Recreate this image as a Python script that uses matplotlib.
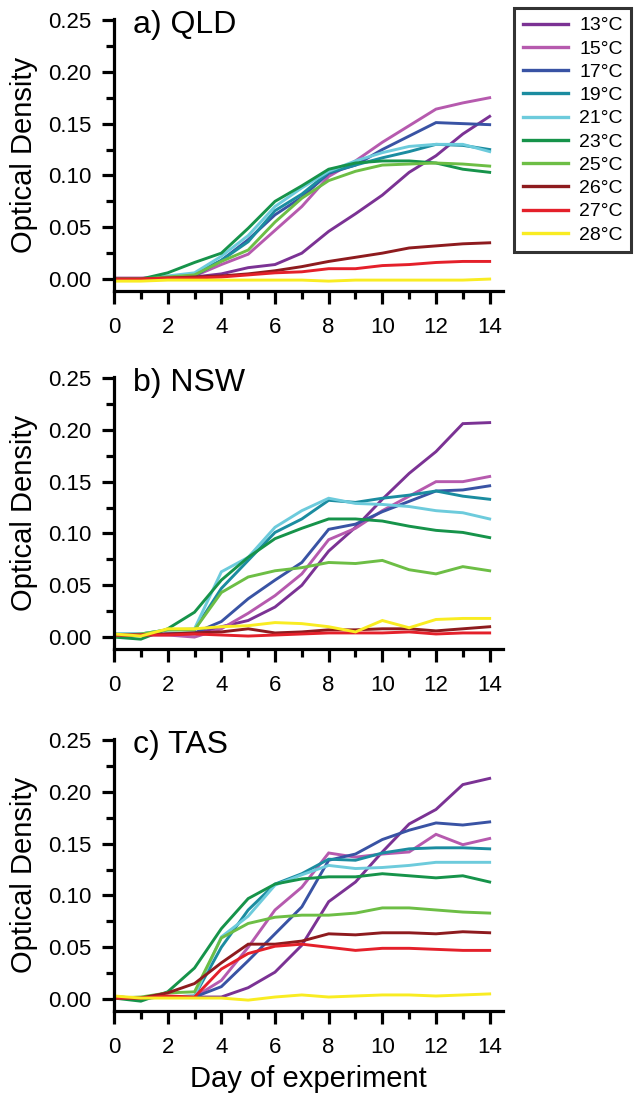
"""Optical density growth curves at ten temperatures for three isolates (QLD, NSW, TAS)."""

import matplotlib
matplotlib.use("Agg")
import matplotlib.pyplot as plt
from matplotlib.ticker import MultipleLocator

plt.rcParams["font.family"] = ["Liberation Sans", "DejaVu Sans"]

# ---------------------------------------------------------------------------
# Data
# ---------------------------------------------------------------------------

days = list(range(15))
temps = ["13°C", "15°C", "17°C", "19°C", "21°C", "23°C", "25°C", "26°C", "27°C", "28°C"]
colors = ["#7B3294", "#B65AAE", "#3953A4", "#1B8CA0", "#6DCBDC",
          "#16934A", "#6DBE45", "#8E1B1E", "#E4202A", "#F9EC22"]

qld = [
    [0, 0, 0.001, 0.002, 0.005, 0.011, 0.014, 0.025, 0.046, 0.063, 0.081, 0.103, 0.119, 0.140, 0.157],
    [0.001, 0.001, 0.002, 0.003, 0.014, 0.024, 0.047, 0.070, 0.099, 0.114, 0.132, 0.148, 0.164, 0.170, 0.175],
    [0, 0, 0.002, 0.003, 0.018, 0.038, 0.062, 0.079, 0.102, 0.110, 0.125, 0.138, 0.151, 0.150, 0.149],
    [0, 0, 0.002, 0.005, 0.018, 0.036, 0.066, 0.082, 0.103, 0.110, 0.117, 0.123, 0.130, 0.129, 0.125],
    [0, 0, 0.003, 0.006, 0.022, 0.042, 0.070, 0.088, 0.104, 0.114, 0.122, 0.128, 0.130, 0.130, 0.123],
    [0, 0, 0.006, 0.016, 0.025, 0.049, 0.075, 0.090, 0.106, 0.112, 0.114, 0.114, 0.112, 0.106, 0.103],
    [0, 0, 0.002, 0.004, 0.017, 0.028, 0.055, 0.078, 0.095, 0.104, 0.110, 0.111, 0.112, 0.111, 0.109],
    [0, 0, 0.001, 0.002, 0.003, 0.005, 0.008, 0.012, 0.017, 0.021, 0.025, 0.030, 0.032, 0.034, 0.035],
    [0, 0, 0.001, 0.001, 0.002, 0.004, 0.006, 0.007, 0.010, 0.010, 0.013, 0.014, 0.016, 0.017, 0.017],
    [-0.002, -0.002, -0.001, -0.001, -0.001, -0.001, -0.001, -0.001, -0.002, -0.001, -0.001, -0.001, -0.001, -0.001, 0.0],
]

nsw = [
    [0.002, 0.002, 0.003, 0.003, 0.010, 0.016, 0.029, 0.050, 0.083, 0.106, 0.133, 0.158, 0.179, 0.206, 0.207],
    [0.002, 0.002, 0.002, 0.000, 0.008, 0.023, 0.040, 0.061, 0.094, 0.105, 0.122, 0.136, 0.150, 0.150, 0.155],
    [0.002, 0.002, 0.003, 0.004, 0.015, 0.037, 0.055, 0.072, 0.104, 0.109, 0.121, 0.131, 0.141, 0.142, 0.146],
    [0.003, 0.003, 0.007, 0.007, 0.047, 0.074, 0.101, 0.114, 0.132, 0.130, 0.134, 0.137, 0.141, 0.136, 0.133],
    [0.003, 0.003, 0.007, 0.008, 0.063, 0.077, 0.106, 0.122, 0.134, 0.129, 0.128, 0.126, 0.122, 0.120, 0.114],
    [0.000, -0.002, 0.008, 0.024, 0.055, 0.077, 0.095, 0.105, 0.114, 0.114, 0.112, 0.107, 0.103, 0.101, 0.096],
    [0.001, 0.003, 0.007, 0.007, 0.043, 0.058, 0.064, 0.067, 0.072, 0.071, 0.074, 0.065, 0.061, 0.068, 0.064],
    [0.002, 0.002, 0.003, 0.004, 0.005, 0.008, 0.004, 0.005, 0.007, 0.007, 0.008, 0.008, 0.006, 0.008, 0.010],
    [0.002, 0.002, 0.002, 0.003, 0.002, 0.001, 0.002, 0.003, 0.004, 0.004, 0.004, 0.005, 0.003, 0.004, 0.004],
    [0.003, 0.001, 0.008, 0.008, 0.010, 0.011, 0.014, 0.013, 0.010, 0.005, 0.016, 0.009, 0.017, 0.018, 0.018],
]

tas = [
    [0.002, 0.001, 0.002, 0.002, 0.002, 0.011, 0.026, 0.052, 0.094, 0.113, 0.142, 0.169, 0.183, 0.207, 0.213],
    [0.002, 0.001, 0.002, 0.002, 0.018, 0.050, 0.086, 0.108, 0.141, 0.137, 0.140, 0.142, 0.159, 0.149, 0.155],
    [0.002, 0.001, 0.002, 0.002, 0.012, 0.037, 0.063, 0.089, 0.134, 0.140, 0.154, 0.163, 0.170, 0.168, 0.171],
    [0.002, 0.001, 0.002, 0.003, 0.050, 0.086, 0.111, 0.121, 0.135, 0.134, 0.141, 0.145, 0.146, 0.146, 0.145],
    [0.002, 0.001, 0.002, 0.003, 0.060, 0.080, 0.110, 0.120, 0.129, 0.126, 0.127, 0.129, 0.132, 0.132, 0.132],
    [0.001, -0.002, 0.007, 0.030, 0.068, 0.097, 0.111, 0.116, 0.118, 0.118, 0.121, 0.119, 0.117, 0.119, 0.113],
    [0.001, 0.002, 0.006, 0.007, 0.059, 0.073, 0.079, 0.081, 0.081, 0.083, 0.088, 0.088, 0.086, 0.084, 0.083],
    [0.001, 0.001, 0.006, 0.015, 0.035, 0.053, 0.053, 0.056, 0.063, 0.062, 0.064, 0.064, 0.063, 0.065, 0.064],
    [0.001, 0.001, 0.003, 0.002, 0.029, 0.044, 0.051, 0.053, 0.050, 0.047, 0.049, 0.049, 0.048, 0.047, 0.047],
    [0.003, 0.001, 0.001, 0.001, 0.001, -0.001, 0.002, 0.004, 0.002, 0.003, 0.004, 0.004, 0.003, 0.004, 0.005],
]

panels = [("a) QLD", qld), ("b) NSW", nsw), ("c) TAS", tas)]

# ---------------------------------------------------------------------------
# Plot
# ---------------------------------------------------------------------------

fig = plt.figure(figsize=(6.42, 11.03), dpi=100)

left, width = 0.1776, 0.606
bottoms = [0.7362, 0.4116, 0.0834]
height = 0.2466

axes = []
for (title, series), bottom in zip(panels, bottoms):
    ax = fig.add_axes([left, bottom, width, height])
    for vals, c, lab in zip(series, colors, temps):
        ax.plot(days, vals, color=c, lw=2.1, label=lab, solid_joinstyle="miter")

    ax.set_xlim(0, 14.5)
    ax.set_ylim(-0.0115, 0.251)
    ax.xaxis.set_minor_locator(MultipleLocator(1))
    ax.yaxis.set_minor_locator(MultipleLocator(0.025))
    ax.set_yticks([0, 0.05, 0.10, 0.15, 0.20, 0.25])
    ax.set_yticklabels(["0.00", "0.05", "0.10", "0.15", "0.20", "0.25"])
    ax.set_xticks(range(0, 15, 2))

    ax.spines[["top", "right"]].set_visible(False)
    ax.spines[["left", "bottom"]].set_linewidth(2.3)
    ax.tick_params(which="major", length=9, width=2.3, labelsize=16)
    ax.tick_params(which="minor", length=5.5, width=2.3)
    ax.tick_params(axis="x", which="major", pad=10)
    ax.tick_params(axis="y", which="major", pad=7.5)

    ax.set_ylabel("Optical Density", fontsize=21)
    ax.yaxis.set_label_coords(-0.195, 0.5)
    ax.text(0.048, 0.948, title, transform=ax.transAxes, fontsize=23,
            ha="left", va="baseline")
    axes.append(ax)

axes[-1].set_xlabel("Day of experiment", fontsize=21, labelpad=5)

handles, labels = axes[0].get_legend_handles_labels()
leg = fig.legend(handles, labels, loc="upper left",
                 bbox_to_anchor=(514 / 642, 1 - 8 / 1103),
                 fontsize=14, frameon=True, fancybox=False,
                 handlelength=2.35, handletextpad=0.55, labelspacing=0.29,
                 borderpad=0.45, borderaxespad=0)
leg.get_frame().set_edgecolor("black")
leg.get_frame().set_linewidth(2.2)
for line in leg.get_lines():
    line.set_linewidth(2.4)

fig.savefig("out.png", dpi=100)
plt.close(fig)
